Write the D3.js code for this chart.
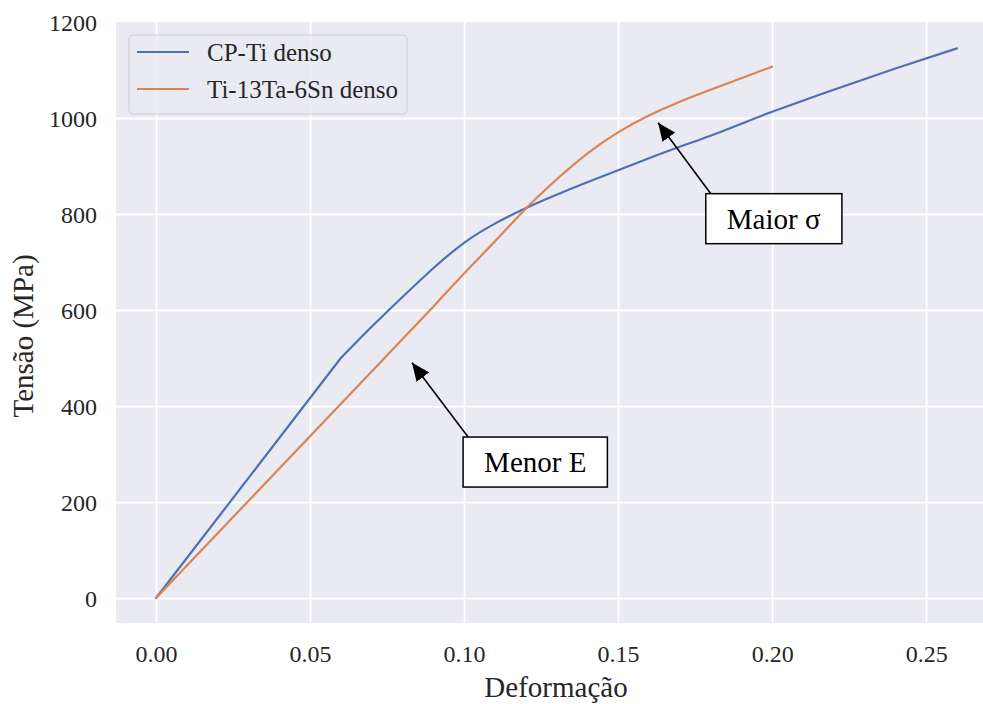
<!DOCTYPE html>
<html>
<head>
<meta charset="utf-8">
<script src="https://cdn.jsdelivr.net/npm/d3@7"></script>
<style>
  html, body { margin: 0; padding: 0; background: #ffffff; }
  svg { display: block; font-family: "Liberation Serif", "Times New Roman", serif; }
</style>
</head>
<body>
<svg id="chart" width="983" height="704"></svg>
<script>
// Stress–strain curves (strain, stress in MPa); the first points of each
// curve form the straight elastic part, the rest the smooth plastic part.
const cpTiStrain   = [0, 0.06, 0.07, 0.08, 0.09, 0.10, 0.11, 0.12, 0.13, 0.14, 0.15, 0.16, 0.17, 0.18, 0.19, 0.20, 0.22, 0.24, 0.26];
const cpTiStress   = [0, 500, 565, 627, 687, 740, 780, 812, 840, 866, 891, 916, 940, 963, 988, 1013, 1059, 1103, 1145];
const cpTiElasticEnd = 1;   // index where the elastic line ends
const tiTaSnStrain = [0, 0.09, 0.10, 0.11, 0.12, 0.13, 0.14, 0.15, 0.16, 0.17, 0.18, 0.19, 0.20];
const tiTaSnStress = [0, 607, 676, 743, 811, 872, 926, 970, 1005, 1034, 1059, 1083, 1107];
const tiTaSnElasticEnd = 1;

const seriesNames  = ["CP-Ti denso", "Ti-13Ta-6Sn denso"];
const seriesColors = ["#4c72b0", "#dd8452"];

const xTicks = [0.00, 0.05, 0.10, 0.15, 0.20, 0.25];
const yTicks = [0, 200, 400, 600, 800, 1000, 1200];

// Callouts: label, arrow tip (strain, stress), box centre (strain, stress)
const calloutLabels = ["Menor E", "Maior σ"];
const calloutTips   = [[0.0831, 490], [0.163, 990]];
const calloutBoxes  = [[0.1231, 283], [0.2005, 790]];

const series = [
  {pts: cpTiStrain.map((x, i) => ({x, y: cpTiStress[i]})), split: cpTiElasticEnd},
  {pts: tiTaSnStrain.map((x, i) => ({x, y: tiTaSnStress[i]})), split: tiTaSnElasticEnd}
];

const svg = d3.select("#chart");
const textColor = "#262626";

const x = d3.scaleLinear().domain([-0.013, 0.273]).range([116, 997]);
const y = d3.scaleLinear().domain([-52, 1200]).range([623, 22]);

// Axes background
svg.append("rect")
  .attr("x", x.range()[0]).attr("y", y.range()[1])
  .attr("width", x.range()[1] - x.range()[0])
  .attr("height", y.range()[0] - y.range()[1])
  .attr("fill", "#eaeaf2");

// Grid lines
const xGrid = d3.axisBottom(x).tickValues(xTicks).tickSize(-(y.range()[0] - y.range()[1])).tickFormat("");
svg.append("g").attr("transform", `translate(0,${y.range()[0]})`).call(xGrid)
  .call(g => g.select(".domain").remove())
  .call(g => g.selectAll("line").attr("stroke", "#ffffff").attr("stroke-width", 1.8));

const yGrid = d3.axisLeft(y).tickValues(yTicks.filter(v => v < 1200)).tickSize(-(x.range()[1] - x.range()[0])).tickFormat("");
svg.append("g").attr("transform", `translate(${x.range()[0]},0)`).call(yGrid)
  .call(g => g.select(".domain").remove())
  .call(g => g.selectAll("line").attr("stroke", "#ffffff").attr("stroke-width", 1.8));

// Tick labels
const xAxis = d3.axisBottom(x).tickValues(xTicks).tickSize(0).tickPadding(0).tickFormat(d3.format(".2f"));
svg.append("g").attr("transform", `translate(0,662)`).call(xAxis)
  .call(g => g.select(".domain").remove())
  .call(g => g.selectAll("text")
    .attr("y", 0).attr("dy", 0)
    .attr("fill", textColor)
    .style("font-family", "Liberation Serif")
    .style("font-size", "24px"));

const yAxis = d3.axisLeft(y).tickValues(yTicks).tickSize(0).tickPadding(0).tickFormat(d3.format("d"));
svg.append("g").attr("transform", `translate(97,0)`).call(yAxis)
  .call(g => g.select(".domain").remove())
  .call(g => g.selectAll("text")
    .attr("x", 0).attr("dy", "0.34em")
    .attr("fill", textColor)
    .style("font-family", "Liberation Serif")
    .style("font-size", "24px"));

// Axis titles
svg.append("text")
  .attr("x", 556)
  .attr("y", 697)
  .attr("text-anchor", "middle")
  .attr("fill", textColor)
  .style("font-size", "29px")
  .text("Deformação");

svg.append("text")
  .attr("transform", `translate(33,336) rotate(-90)`)
  .attr("text-anchor", "middle")
  .attr("fill", textColor)
  .style("font-size", "29px")
  .text("Tensão (MPa)");

// Curves: straight elastic segment followed by a smooth spline segment
svg.append("clipPath").attr("id", "plot-clip")
  .append("rect")
  .attr("x", x.range()[0]).attr("y", y.range()[1])
  .attr("width", x.range()[1] - x.range()[0])
  .attr("height", y.range()[0] - y.range()[1]);

const straight = d3.line().x(d => x(d.x)).y(d => y(d.y));
const smooth = d3.line().x(d => x(d.x)).y(d => y(d.y)).curve(d3.curveNatural);
const curvePath = s => {
  const a = straight(s.pts.slice(0, s.split + 1));
  const b = smooth(s.pts.slice(s.split));
  return a + "L" + b.slice(1);
};

svg.append("g").attr("clip-path", "url(#plot-clip)")
  .selectAll("path").data(series).join("path")
  .attr("d", curvePath)
  .attr("fill", "none")
  .attr("stroke", (d, i) => seriesColors[i])
  .attr("stroke-width", 2.2)
  .attr("stroke-linejoin", "round")
  .attr("stroke-linecap", "round");

// Legend
const legend = svg.append("g").attr("transform", "translate(129,35)");
legend.append("rect")
  .attr("width", 278).attr("height", 79)
  .attr("rx", 4).attr("ry", 4)
  .attr("fill", "#eaeaf2").attr("fill-opacity", 0.8)
  .attr("stroke", "#cccccc").attr("stroke-width", 1);
seriesNames.forEach((name, i) => {
  const cy = 17 + i * 37;
  legend.append("line")
    .attr("x1", 8).attr("x2", 60).attr("y1", cy).attr("y2", cy)
    .attr("stroke", seriesColors[i]).attr("stroke-width", 2.2);
  legend.append("text")
    .attr("x", 78).attr("y", cy).attr("dy", "0.34em")
    .attr("fill", textColor)
    .style("font-size", "25px")
    .text(name);
});

// Callouts with arrows
const defs = svg.append("defs");
defs.append("marker")
  .attr("id", "arrowhead")
  .attr("viewBox", "0 0 16 14")
  .attr("refX", 16).attr("refY", 7)
  .attr("markerWidth", 18).attr("markerHeight", 16)
  .attr("markerUnits", "userSpaceOnUse")
  .attr("orient", "auto")
  .append("path").attr("d", "M0,0 L16,7 L0,14 Z").attr("fill", "#000");

calloutLabels.forEach((label, i) => {
  const [bx, by] = calloutBoxes[i];
  const [tx, ty] = calloutTips[i];
  const g = svg.append("g");
  const t = g.append("text")
    .attr("x", x(bx)).attr("y", y(by)).attr("dy", "0.34em")
    .attr("text-anchor", "middle")
    .attr("fill", "#000")
    .style("font-size", "29px")
    .text(label);
  const bb = t.node().getBBox();
  const padX = 21, padY = 9;
  const rx0 = bb.x - padX, ry0 = bb.y - padY, rw = bb.width + 2 * padX, rh = bb.height + 2 * padY;
  // arrow from the box's top edge, near its left corner, to the tip
  const sx = rx0 + 5, sy = ry0;
  g.insert("line", "text")
    .attr("x1", sx).attr("y1", sy)
    .attr("x2", x(tx)).attr("y2", y(ty))
    .attr("stroke", "#000").attr("stroke-width", 1.6)
    .attr("marker-end", "url(#arrowhead)");
  g.insert("rect", "text")
    .attr("x", rx0).attr("y", ry0).attr("width", rw).attr("height", rh)
    .attr("fill", "#ffffff").attr("stroke", "#000").attr("stroke-width", 1.5);
});
</script>
</body>
</html>
